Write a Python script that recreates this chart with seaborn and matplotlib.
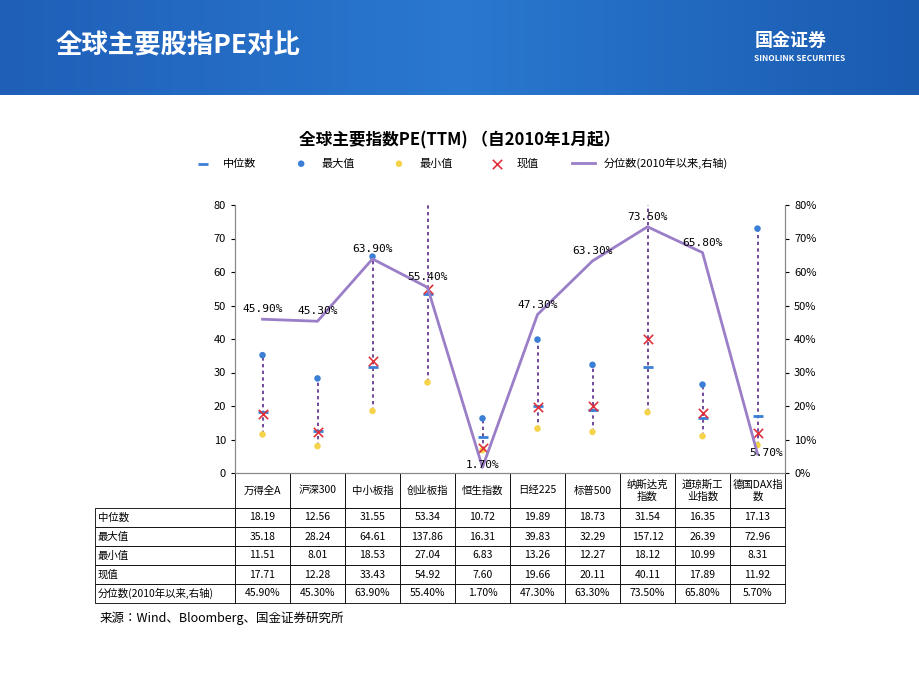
import matplotlib
matplotlib.use("Agg")
import matplotlib.pyplot as plt
from matplotlib import font_manager as fm
import seaborn as sns
import numpy as np
import pandas as pd

names = {f.name for f in fm.fontManager.ttflist}
cjk = "Noto Sans CJK SC"
if cjk not in names:
    cands = [n for n in names if "CJK" in n and "Sans" in n] or [n for n in names if "CJK" in n]
    cjk = cands[0] if cands else "DejaVu Sans"
plt.rcParams["font.family"] = "sans-serif"
plt.rcParams["font.sans-serif"] = [cjk, "DejaVu Sans"]
plt.rcParams["axes.unicode_minus"] = False

categories = ["万得全A", "沪深300", "中小板指", "创业板指", "恒生指数", "日经225", "标普500", "纳斯达克\n指数", "道琼斯工\n业指数", "德国DAX指\n数"]
median = [18.19, 12.56, 31.55, 53.34, 10.72, 19.89, 18.73, 31.54, 16.35, 17.13]
maxv = [35.18, 28.24, 64.61, 137.86, 16.31, 39.83, 32.29, 157.12, 26.39, 72.96]
minv = [11.51, 8.01, 18.53, 27.04, 6.83, 13.26, 12.27, 18.12, 10.99, 8.31]
current = [17.71, 12.28, 33.43, 54.92, 7.60, 19.66, 20.11, 40.11, 17.89, 11.92]
pct = [45.90, 45.30, 63.90, 55.40, 1.70, 47.30, 63.30, 73.50, 65.80, 5.70]

n = len(categories)
x = np.arange(n)
df = pd.DataFrame({"x": x, "median": median, "max": maxv, "min": minv, "cur": current, "pct": pct})

fig = plt.figure(figsize=(9.2, 6.9), dpi=100)

hax = fig.add_axes([0, 1 - 95 / 690, 1, 95 / 690])
grad = np.linspace(0, 1, 256).reshape(1, -1)
from matplotlib.colors import LinearSegmentedColormap
cm = LinearSegmentedColormap.from_list("h", ["#1f5fb8", "#2a78d0", "#1a5bb0"])
hax.imshow(grad, aspect="auto", cmap=cm, extent=[0, 1, 0, 1])
hax.set_axis_off()
hax.text(0.06, 0.52, "全球主要股指PE对比", color="white", fontsize=19, fontweight="bold", va="center")
hax.text(0.82, 0.57, "国金证券", color="white", fontsize=13, fontweight="bold", va="center")
hax.text(0.82, 0.38, "SINOLINK SECURITIES", color="white", fontsize=6, fontweight="bold", va="center")

ax = fig.add_axes([235 / 920, 1 - 473 / 690, 550 / 920, 268 / 690])
ax2 = ax.twinx()
ax.set_xlim(-0.5, n - 0.5)
ax.set_ylim(0, 80)
ax2.set_ylim(0, 80)

ax.vlines(x, minv, maxv, colors="#5b2a86", linestyles=(0, (2, 2)), lw=1.2, zorder=2)
sns.scatterplot(data=df, x="x", y="max", ax=ax, color="#3a7fd5", s=22, edgecolor="none", zorder=3, label="最大值")
sns.scatterplot(data=df, x="x", y="min", ax=ax, color="#f5d34a", s=22, edgecolor="none", zorder=3, label="最小值")
sns.scatterplot(data=df, x="x", y="median", ax=ax, color="#3a7fd5", marker="_", s=60, linewidth=2, zorder=4, label="中位数")
sns.scatterplot(data=df, x="x", y="cur", ax=ax, color="#e0303a", marker="x", s=45, linewidth=1.2, zorder=5, label="现值")
sns.lineplot(data=df, x="x", y="pct", ax=ax2, color="#9b7ec8", lw=2, label="分位数(2010年以来,右轴)")
for i, p in enumerate(pct):
    if i == 4:
        ax2.text(i, p + 0.8, f"{p:.2f}%", ha="center", va="center", fontsize=8, family="DejaVu Sans Mono")
    elif i == n - 1:
        ax2.text(i - 0.15, p + 0.3, f"{p:.2f}%", ha="left", va="center", fontsize=8, family="DejaVu Sans Mono")
    else:
        ax2.text(i, p + 1.5, f"{p:.2f}%", ha="center", va="bottom", fontsize=8, family="DejaVu Sans Mono")

h1, l1 = ax.get_legend_handles_labels()
h2, l2 = ax2.get_legend_handles_labels()
ax.legend_.remove(); ax2.legend_.remove()
order = [2, 0, 1, 3]
fig.legend([h1[i] for i in order] + h2, [l1[i] for i in order] + l2, loc="center",
           bbox_to_anchor=(0.5, 1 - 163 / 690), ncol=5, frameon=False, fontsize=8, columnspacing=3)

ax.set_yticks(range(0, 81, 10))
ax2.set_yticks(range(0, 81, 10))
ax2.set_yticklabels([f"{v}%" for v in range(0, 81, 10)])
ax.tick_params(axis="y", labelsize=8, length=3)
ax2.tick_params(axis="y", labelsize=8, length=3)
ax.set_xticks([]); ax.set_xlabel(""); ax.set_ylabel(""); ax2.set_ylabel("")
ax.spines["top"].set_visible(False); ax2.spines["top"].set_visible(False)
for s in ["left", "right", "bottom"]:
    ax2.spines[s].set_color("#888"); ax.spines[s].set_color("#888")

fmt = lambda v: f"{v:.2f}"
rows = [[""] + categories,
        ["中位数"] + [fmt(v) for v in median],
        ["最大值"] + [fmt(v) for v in maxv],
        ["最小值"] + [fmt(v) for v in minv],
        ["现值"] + [fmt(v) for v in current],
        ["分位数(2010年以来,右轴)"] + [f"{v:.2f}%" for v in pct]]
cw = [140 / 690] + [55 / 690] * n
tab = ax.table(cellText=rows, colWidths=cw, bbox=[-140 / 550, -130 / 268, 690 / 550, 130 / 268], cellLoc="center")
tab.auto_set_font_size(False)
heights = [35, 19, 19, 19, 19, 19]
for (r, c), cell in tab.get_celld().items():
    cell.set_fontsize(7.5)
    cell.set_linewidth(0.6)
    cell.set_height(heights[r] / 130)
    if c == 0:
        cell.set_text_props(ha="left")
        cell.PAD = 0.02
    if r == 0 and c == 0:
        cell.set_edgecolor("white")

fig.text(0.5, 1 - 140 / 690, "全球主要指数PE(TTM) （自2010年1月起）", ha="center", va="center", fontsize=12, fontweight="bold")
fig.text(100 / 920, 1 - 618 / 690, "来源：Wind、Bloomberg、国金证券研究所", fontsize=9, style="italic", va="center")

fig.savefig("out.png", dpi=100)
